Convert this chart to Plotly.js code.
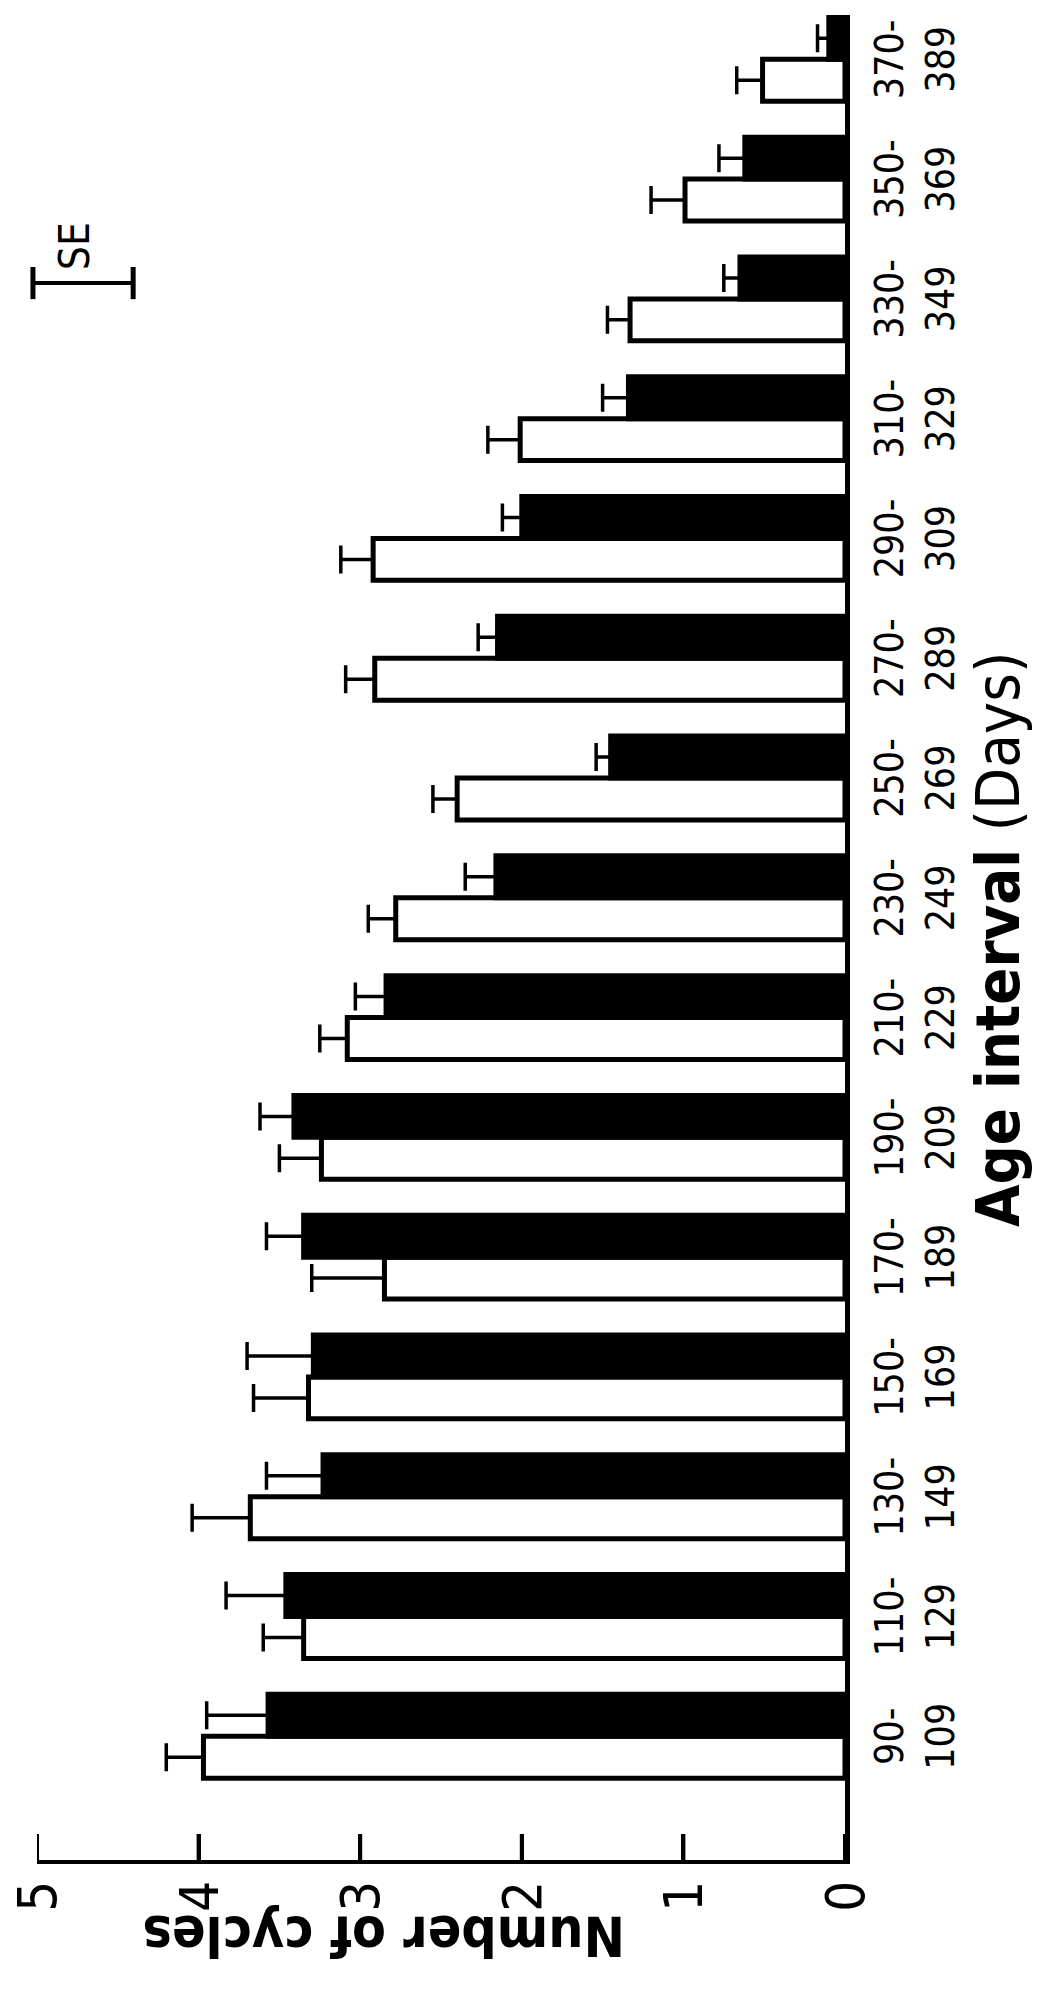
<!DOCTYPE html>
<html>
<head>
<meta charset="utf-8">
<script src="https://cdn.plot.ly/plotly-3.0.1.min.js"></script>
<style>
html,body{margin:0;padding:0;background:#fff;overflow:hidden;width:1039px;height:2009px;}
#chart{position:absolute;left:0;top:0;width:2009px;height:1039px;transform-origin:0 0;transform:translate(0px,2009px) rotate(-90deg);}
</style>
</head>
<body>
<div id="chart"></div>
<script>
const categories = ["90-109","110-129","130-149","150-169","170-189","190-209","210-229","230-249","250-269","270-289","290-309","310-329","330-349","350-369","370-389"];
const tickLabels = ["90-<br>109","110-<br>129","130-<br>149","150-<br>169","170-<br>189","190-<br>209","210-<br>229","230-<br>249","250-<br>269","270-<br>289","290-<br>309","310-<br>329","330-<br>349","350-<br>369","370-<br>389"];
const whiteValues = [3.97,3.35,3.68,3.32,2.85,3.24,3.08,2.78,2.40,2.91,2.92,2.01,1.33,0.99,0.51];
const whiteSE     = [0.23,0.25,0.36,0.34,0.45,0.26,0.17,0.17,0.15,0.18,0.20,0.20,0.14,0.21,0.16];
const blackValues = [3.57,3.46,3.23,3.29,3.35,3.41,2.84,2.16,1.45,2.15,2.00,1.34,0.65,0.62,0.10];
const blackSE     = [0.38,0.37,0.35,0.41,0.23,0.21,0.19,0.19,0.09,0.12,0.12,0.16,0.10,0.16,0.07];
const valueTicks = [0,1,2,3,4,5];
const valueTickLabels = ["0","1","2","3","4","5"];

const FONT = "'Liberation Sans Narrow', 'Arial Narrow', 'DejaVu Sans Condensed', 'Liberation Sans', sans-serif";
const zeros = whiteValues.map(() => 0);

const traces = [
  {
    type: 'bar', x: categories, y: whiteValues, name: 'white',
    marker: {color: '#ffffff', line: {color: '#000000', width: 5}},
    error_y: {type: 'data', symmetric: false, array: whiteSE, arrayminus: zeros, color: '#000000', thickness: 3.5, width: 14},
    showlegend: false
  },
  {
    type: 'bar', x: categories, y: blackValues, name: 'black',
    marker: {color: '#000000', line: {color: '#000000', width: 5}},
    error_y: {type: 'data', symmetric: false, array: blackSE, arrayminus: zeros, color: '#000000', thickness: 3.5, width: 14},
    showlegend: false
  }
];

// inward tick marks on the value axis (drawn from the tick values)
const tickShapes = valueTicks.map(v => ({
  type: 'line', xref: 'paper', yref: 'y', x0: 0, x1: 0.0141, y0: v, y1: v,
  line: {color: '#000000', width: 4}
}));

const layout = {
  width: 2009, height: 1039,
  margin: {l: 149, r: 15, t: 37, b: 194, pad: 0},
  paper_bgcolor: '#ffffff', plot_bgcolor: '#ffffff',
  barmode: 'group', bargap: 0.3, bargroupgap: 0,
  showlegend: false,
  font: {family: FONT, color: '#000000'},
  xaxis: {
    type: 'category', range: [-1.033, 14.37],
    tickvals: categories, ticktext: tickLabels,
    ticks: '', showline: true, linecolor: '#000000', linewidth: 5,
    showgrid: false, zeroline: false,
    tickfont: {family: FONT, size: 39, color: '#000000'},
    ticklabelstandoff: 6
  },
  yaxis: {
    range: [0, 5], tickvals: valueTicks, ticktext: valueTickLabels,
    ticks: 'inside', ticklen: 26, tickwidth: 4, tickcolor: '#000000',
    showline: true, linecolor: '#000000', linewidth: 4,
    showgrid: false, zeroline: false,
    tickfont: {family: FONT, size: 54, color: '#000000'},
    ticklabelstandoff: 6
  },
  annotations: [
    {text: '<b>Number of cycles</b>', xref: 'paper', yref: 'paper', x: -0.0416, y: 0.571,
     xanchor: 'center', yanchor: 'middle', textangle: -90, showarrow: false,
     font: {family: FONT, size: 55, color: '#000000'}},
    {text: '<b>Age interval</b> (Days)', xref: 'paper', yref: 'paper', x: 0.499, y: -0.189,
     xanchor: 'center', yanchor: 'middle', showarrow: false,
     font: {family: FONT, size: 61, color: '#000000'}},
    {text: 'SE', xref: 'paper', yref: 'paper', x: 0.8748, y: 0.9534,
     xanchor: 'center', yanchor: 'middle', showarrow: false,
     font: {family: FONT, size: 42, color: '#000000'}}
  ],
  shapes: tickShapes.concat([
    {type: 'line', xref: 'paper', yref: 'paper', x0: 0.8547, x1: 0.8547, y0: 0.881, y1: 1.005, line: {color: '#000000', width: 4}},
    {type: 'line', xref: 'paper', yref: 'paper', x0: 0.8460, x1: 0.8634, y0: 0.881, y1: 0.881, line: {color: '#000000', width: 5}},
    {type: 'line', xref: 'paper', yref: 'paper', x0: 0.8460, x1: 0.8634, y0: 1.005, y1: 1.005, line: {color: '#000000', width: 5}}
  ])
};

Plotly.newPlot('chart', traces, layout, {staticPlot: true, displayModeBar: false});
</script>
</body>
</html>
